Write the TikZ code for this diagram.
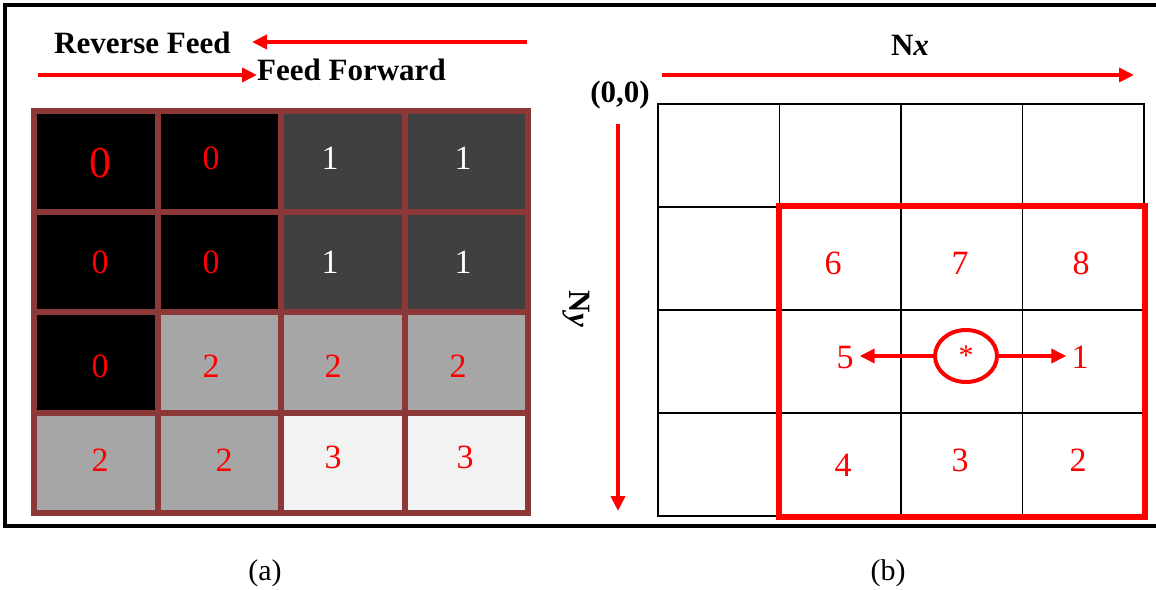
\documentclass[tikz,border=0pt]{standalone}
\usepackage{fontspec}
\setmainfont{Liberation Serif}
\usetikzlibrary{arrows.meta,shapes.geometric}
\definecolor{cellbrown}{RGB}{140,56,56}
\definecolor{darkcell}{RGB}{64,64,64}
\definecolor{midcell}{RGB}{166,166,166}
\definecolor{lightcell}{RGB}{242,242,242}
\definecolor{sred}{RGB}{255,0,0}
\tikzset{
  redarrow/.style={draw=sred, line width=4pt, -{Triangle[length=15pt,width=14pt]}},
  smallarrow/.style={draw=sred, line width=3.5pt, -{Triangle[length=15pt,width=14pt]}},
  titletext/.style={font=\fontsize{31}{31}\selectfont\bfseries, inner sep=0pt},
  captext/.style={font=\fontsize{30}{30}\selectfont, inner sep=0pt},
  digit/.style={font=\fontsize{34}{34}\selectfont, inner sep=0pt, text=sred},
  bigdigit/.style={font=\fontsize{44}{44}\selectfont, inner sep=0pt, text=sred},
  whitedigit/.style={font=\fontsize{34}{34}\selectfont, inner sep=0pt, text=white},
  lcell/.style={draw=cellbrown, line width=6pt, minimum width=123.5pt, minimum height=100.5pt, inner sep=0pt, anchor=north west},
  rcell/.style={draw=black, line width=1.5pt, minimum width=121.5pt, minimum height=103pt, inner sep=0pt, anchor=north west},
}
\begin{document}
\begin{tikzpicture}[x=1pt,y=-1pt]
\useasboundingbox (0,0) rectangle (1156,589);
\fill[white] (0,0) rectangle (1156,589);

% outer frame (open on the right)
\draw[line width=3.5pt] (1160,5) -- (5,5) -- (5,526) -- (1160,526);

% ---------- (a) labelled grid ----------
\node[titletext, anchor=west] (rev) at (54,43) {Reverse Feed};
\coordinate (revstart) at (527,42);
\coordinate (revend) at (252,42);
\draw[redarrow] (revstart) -- (revend);

\coordinate (fwdstart) at (38,75);
\node[titletext, anchor=west] (fwd) at (257,70) {Feed Forward};
\draw[redarrow] (fwdstart) -- (fwd.west |- fwdstart);

% cells: fill colours row by row
\foreach \r/\cols in {1/{black,black,darkcell,darkcell},
                       2/{black,black,darkcell,darkcell},
                       3/{black,midcell,midcell,midcell},
                       4/{midcell,midcell,lightcell,lightcell}}{
  \foreach \c [count=\j] in \cols {
    \node[lcell, fill=\c] (a\r\j) at ({31+123.5*(\j-1)},{108+100.5*(\r-1)}) {};
  }
}

% region labels
\node[bigdigit]   (la11) at (100,163) {0};
\node[digit]      (la12) at (211,158) {0};
\node[whitedigit] (la13) at (330,158) {1};
\node[whitedigit] (la14) at (463,158) {1};
\node[digit]      (la21) at (100,262) {0};
\node[digit]      (la22) at (211,262) {0};
\node[whitedigit] (la23) at (330,262) {1};
\node[whitedigit] (la24) at (463,262) {1};
\node[digit]      (la31) at (100,366) {0};
\node[digit]      (la32) at (211,366) {2};
\node[digit]      (la33) at (333,366) {2};
\node[digit]      (la34) at (458,366) {2};
\node[digit]      (la41) at (100,460) {2};
\node[digit]      (la42) at (224,460) {2};
\node[digit]      (la43) at (333,457) {3};
\node[digit]      (la44) at (465,457) {3};

\node[captext] (capa) at (265,573) {(a)};

% ---------- (b) neighbourhood grid ----------
\node[titletext] (nx) at (910,45) {N\textit{x}};
\coordinate (nxstart) at (662,75);
\coordinate (nxend) at (1134,75);
\draw[redarrow] (nxstart) -- (nxend);

\node[titletext] (origin) at (620,95) {(0,0)};

\coordinate (nystart) at (618,124);
\coordinate (nyend) at (618,511);
\draw[redarrow] (nystart) -- (nyend);
\node[titletext, rotate=-90] (ny) at (576,309) {N\textit{y}};

\foreach \r in {1,...,4}{
  \foreach \j in {1,...,4}{
    \node[rcell] (b\r\j) at ({657+121.5*(\j-1)},{103+103*(\r-1)}) {};
  }
}

% 3x3 window around the centre pixel
\draw[draw=sred, line width=6pt] (b22.north west) rectangle (b44.south east);

\node[digit] (n6) at (833,263) {6};
\node[digit] (n7) at (960,263) {7};
\node[digit] (n8) at (1081,263) {8};
\node[digit] (n5) at (845,358) {5};
\node[digit] (n1) at (1080,357) {1};
\node[digit] (n4) at (843,465) {4};
\node[digit] (n3) at (960,460) {3};
\node[digit] (n2) at (1078,460) {2};

\node[ellipse, draw=sred, line width=4pt, minimum width=62pt, minimum height=52pt,
      inner sep=0pt, text=sred, font=\fontsize{30}{30}\selectfont] (centre) at (966,356) {*};
\draw[smallarrow] (centre.west) -- ([xshift=6pt]n5.east |- centre.west);
\draw[smallarrow] (centre.east) -- ([xshift=-5pt]n1.west |- centre.east);

\node[captext] (capb) at (888,573) {(b)};
\end{tikzpicture}
\end{document}
